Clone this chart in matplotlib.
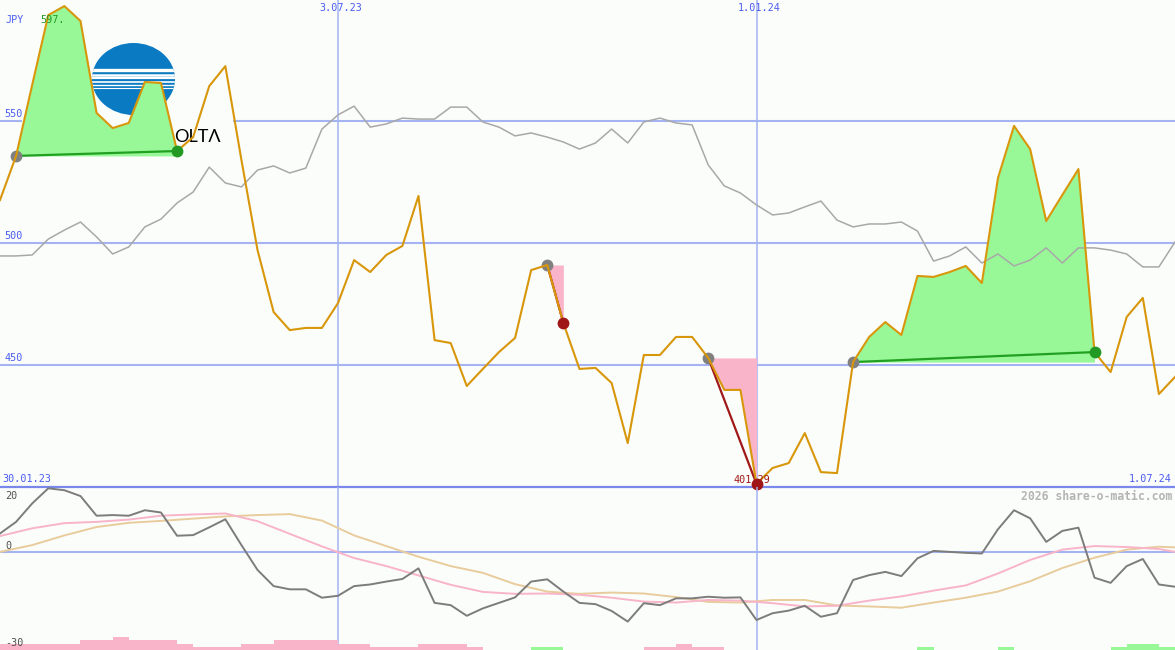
import matplotlib
matplotlib.use('Agg')
import matplotlib.pyplot as plt
import matplotlib.transforms as mtransforms
from matplotlib.patches import Ellipse, Rectangle
from matplotlib.lines import Line2D
import numpy as np
import pandas as pd

W, H = 1175, 650

# weekly closes, JPY
weeks = pd.date_range('2023-02-06', periods=74, freq='7D')
end_date = pd.Timestamp('2024-07-01')

price = [517.6, 535.7, 564.8, 593.4, 597.1, 591.0, 553.3, 547.1, 549.2, 566.0,
         565.6, 537.7, 543.4, 564.3, 572.5, 534.0, 497.1, 471.7, 464.3, 465.2,
         465.2, 475.4, 493.0, 488.1, 495.1, 498.8, 519.3, 460.2, 459.0, 441.4,
         448.4, 455.3, 461.1, 488.9, 491.0, 467.2, 448.4, 448.8, 442.6, 418.0,
         454.1, 454.1, 461.5, 461.5, 452.9, 439.8, 439.8, 401.29, 407.8, 409.8,
         422.1, 406.1, 405.7, 451.2, 461.5, 467.6, 462.3, 486.5, 486.1, 488.1,
         490.6, 483.6, 526.6, 548.0, 538.5, 509.0, 519.7, 530.3, 455.3, 447.1,
         469.7, 477.5, 438.1, 445.1]

# index, rescaled to the price axis
bench = [494.7, 494.7, 495.1, 501.6, 505.3, 508.6, 502.5, 495.5, 498.4, 506.6,
         509.8, 516.4, 520.9, 531.1, 524.6, 523.0, 529.9, 531.6, 528.7, 530.7,
         546.7, 552.5, 556.1, 547.5, 548.8, 551.2, 550.8, 550.8, 555.7, 555.7,
         549.6, 547.5, 543.9, 545.1, 543.4, 541.4, 538.5, 541.0, 546.7, 541.0,
         549.6, 551.2, 549.2, 548.4, 532.0, 523.4, 520.5, 515.6, 511.5, 512.3,
         514.8, 517.2, 509.4, 506.6, 507.8, 507.8, 508.6, 504.9, 492.6, 494.7,
         498.4, 491.8, 495.5, 490.6, 493.0, 498.0, 491.8, 498.0, 498.0, 497.1,
         495.5, 490.2, 490.2, 500.4]

# lower panel
momentum = [5.6, 9.2, 14.9, 19.6, 19.0, 17.2, 11.1, 11.3, 11.1, 12.8,
            12.1, 4.9, 5.1, 7.5, 10.0, 2.0, -5.7, -10.7, -11.7, -11.7,
            -14.3, -13.7, -10.7, -10.2, -9.3, -8.5, -5.2, -15.9, -16.6, -19.9,
            -17.6, -15.9, -14.2, -9.3, -8.6, -12.4, -15.9, -16.3, -18.4, -21.7,
            -16.0, -16.6, -14.5, -14.5, -14.0, -14.3, -14.2, -21.2, -19.1, -18.3,
            -16.8, -20.2, -19.1, -8.8, -7.3, -6.3, -7.6, -2.1, 0.2, -0.1,
            -0.4, -0.6, 6.9, 12.8, 10.3, 3.0, 6.4, 7.4, -8.1, -9.7,
            -4.5, -2.3, -10.2, -10.9]

smooth_idx = list(range(0, 73, 2)) + [73]
avg_fast = [4.8, 7.2, 8.8, 9.2, 9.9, 11.1, 11.5, 11.8, 9.4, 5.5,
            1.6, -2.0, -4.5, -7.4, -10.3, -12.5, -13.1, -13.0, -13.4, -14.3,
            -15.5, -15.8, -15.0, -15.2, -16.0, -17.0, -16.8, -15.2, -13.9, -12.1,
            -10.5, -6.8, -2.6, 0.6, 1.7, 1.4, 0.8, -0.1]
avg_slow = [-0.1, 2.0, 5.0, 7.6, 8.9, 9.5, 10.2, 10.9, 11.3, 11.6,
            9.6, 5.0, 1.7, -1.6, -4.5, -6.6, -10.1, -12.4, -13.1, -12.7,
            -13.0, -14.1, -15.6, -15.8, -15.0, -15.0, -16.7, -17.0, -17.4, -15.8,
            -14.3, -12.4, -9.2, -5.1, -1.9, 0.6, 1.5, 1.3]

flow = [-2, -2, -2, -2, -2, -3, -3, -4, -3, -3,
        -3, -2, -1, -1, -1, -2, -2, -3, -3, -3,
        -3, -2, -2, -1, -1, -1, -2, -2, -2, -1,
        0, 0, 0, 1, 1, 0, 0, 0, 0, 0,
        -1, -1, -2, -1, -1, 0, 0, 0, 0, 0,
        0, 0, 0, 0, 0, 0, 0, 1, 0, 0,
        0, 0, 1, 0, 0, 0, 0, 0, 0, 1,
        2, 2, 1]

# trades: (start week, end week)
gains = [(1, 11), (53, 68)]
losses = [(34, 35), (44, 47)]

bg = '#fbfdfb'
grid_c = '#a4b3f2'
sep_c = '#7a88ec'
blue_txt = '#4a5cf0'
orange = '#d8960a'
mono = 'DejaVu Sans Mono'


def fig_px(x, y):
    return x / W, 1 - y / H


fig = plt.figure(figsize=(W / 100, H / 100), dpi=100, facecolor=bg)
ax = fig.add_axes([0, 163 / H, 1, 487 / H], facecolor=bg)
ax2 = fig.add_axes([0, 0, 1, 163 / H], facecolor=bg)
for a in (ax, ax2):
    a.set_axis_off()
    a.set_xlim(weeks[0], end_date)
    a.patch.set_visible(True)
    for d in (weeks[21], weeks[47]):
        a.axvline(d, color=grid_c, lw=1.1, zorder=1)

ax.set_ylim(400, 599.6)
ax2.set_ylim(-30.5, 20)

# --- upper panel ---
for lvl in (550, 500, 450):
    ax.axhline(lvl, color=grid_c, lw=1.5, zorder=1)
    ax.text(weeks[0] + pd.Timedelta(days=2), lvl + 0.9, str(lvl), color=blue_txt,
            fontsize=7.3, family=mono, va='bottom', ha='left', zorder=6)
ax.axhline(400, color=sep_c, lw=1.6, zorder=3.6, clip_on=False)

# logo
ax.add_patch(Rectangle(fig_px(22, 150), 211 / W, 120 / H, transform=fig.transFigure,
                       fc=bg, ec='none', zorder=1.5, clip_on=False))
globe = Ellipse(fig_px(133.5, 79), 83 / W, 72 / H, transform=fig.transFigure,
                fc='#0a7bc2', ec='none', zorder=1.6, clip_on=False)
ax.add_patch(globe)
for yy, w in zip([70, 74.5, 78, 81.5, 85, 88], [2.4, 1.8, 1.6, 1.2, 1.0, 0.8]):
    x0, y0 = fig_px(90, yy)
    x1, _ = fig_px(178, yy)
    ln = Line2D([x0, x1], [y0, y0], transform=fig.transFigure, color='white',
                lw=w, zorder=1.65)
    ax.add_line(ln)
    ln.set_clip_path(globe)
# logo wordmark, mostly hidden behind the first gain area
ax.text(*fig_px(167, 137), 'KONICA MIN', transform=fig.transFigure,
        ha='right', va='center', fontsize=13, family='Lato', color='black',
        zorder=1.7)
ax.text(*fig_px(174, 137), 'OLTΛ', transform=fig.transFigure,
        ha='left', va='center', fontsize=13, family='Lato', color='black',
        zorder=1.7)

price_a = np.array(price)
for s, e in gains:
    ax.fill_between(weeks[s:e + 1], price_a[s:e + 1], price_a[s],
                    color='#98f898', lw=0, zorder=2)
    ax.plot([weeks[s], weeks[e]], [price[s], price[e]], color='#22a022', lw=1.6, zorder=3)
for s, e in losses:
    ax.fill_between(weeks[s:e + 1], price_a[s:e + 1], price_a[s],
                    color='#f9b4c9', lw=0, zorder=2)
    ax.plot([weeks[s], weeks[e]], [price[s], price[e]], color='#a01818', lw=1.6, zorder=3)

ax.plot(weeks, bench, color='#a8a8a8', lw=1.1, zorder=2.5)

starts = [s for s, _ in gains + losses]
ax.plot(weeks[starts], price_a[starts], 'o', ms=8.5, color='#808080', mec='none',
        zorder=3.2, clip_on=False)
ax.plot(weeks, price, color=orange, lw=1.5, zorder=3.5)
ax.plot(weeks[[e for _, e in gains]], price_a[[e for _, e in gains]], 'o', ms=8.5,
        color='#229922', mec='none', zorder=4, clip_on=False)

lo = int(np.argmin(price))
shift = mtransforms.ScaledTranslation(14 / 100, 0, fig.dpi_scale_trans)
ax.text(weeks[lo], price[lo] + 1.5, f'{price[lo]:.2f}', color='#a01818', fontsize=7.3,
        family=mono, ha='right', va='center', zorder=3.8, transform=ax.transData + shift)
ax.plot(weeks[[e for _, e in losses]], price_a[[e for _, e in losses]], 'o', ms=8.5,
        color='#a01515', mec='none', zorder=4, clip_on=False)

ax.text(*fig_px(5, 20), 'JPY', transform=fig.transFigure, color=blue_txt, fontsize=7.3,
        family=mono, va='center', ha='left', zorder=6)
ax.text(*fig_px(40, 20), '597.', transform=fig.transFigure, color='#229922', fontsize=7.3,
        family=mono, va='center', ha='left', zorder=6)

xt = ax.get_xaxis_transform()
for d, lab in ((weeks[21], '3.07.23'), (weeks[47], '1.01.24')):
    ax.text(d + pd.Timedelta(days=1), 1 - 8 / 487, lab, transform=xt, color=blue_txt,
            fontsize=7.3, family=mono, ha='center', va='center', zorder=6)
ax.text(*fig_px(2, 479), '30.01.23', transform=fig.transFigure, color=blue_txt,
        fontsize=7.3, family=mono, ha='left', va='center', zorder=6)
ax.text(*fig_px(1172, 479), '1.07.24', transform=fig.transFigure, color=blue_txt,
        fontsize=7.3, family=mono, ha='right', va='center', zorder=6)

# --- lower panel ---
ax2.axhline(0, color=grid_c, lw=1.5, zorder=1)
flow_a = np.array(flow)
ax2.bar(weeks[:-1], np.abs(flow_a), width=7, align='edge', bottom=-30.5,
        color=['#98f898' if f > 0 else '#f9b4c9' for f in flow_a], lw=0, zorder=1.5)
ax2.plot(weeks[smooth_idx], avg_slow, color='#e8cc9c', lw=1.4, zorder=2)
ax2.plot(weeks[smooth_idx], avg_fast, color='#f8b4c8', lw=1.4, zorder=2.2)
ax2.plot(weeks, momentum, color='#7c7c7c', lw=1.4, zorder=3)

for y, lab in ((496, '20'), (546, '0'), (643, '-30')):
    fig.text(*fig_px(5, y), lab, color='#505050', fontsize=7.3, family=mono,
             ha='left', va='center', zorder=6)
fig.text(*fig_px(1172, 496), '2026 share-o-matic.com', color='#b4b4b4', fontsize=8.3,
         family=mono, weight='bold', ha='right', va='center', zorder=6)

fig.savefig('out.png', dpi=100, facecolor=bg)
